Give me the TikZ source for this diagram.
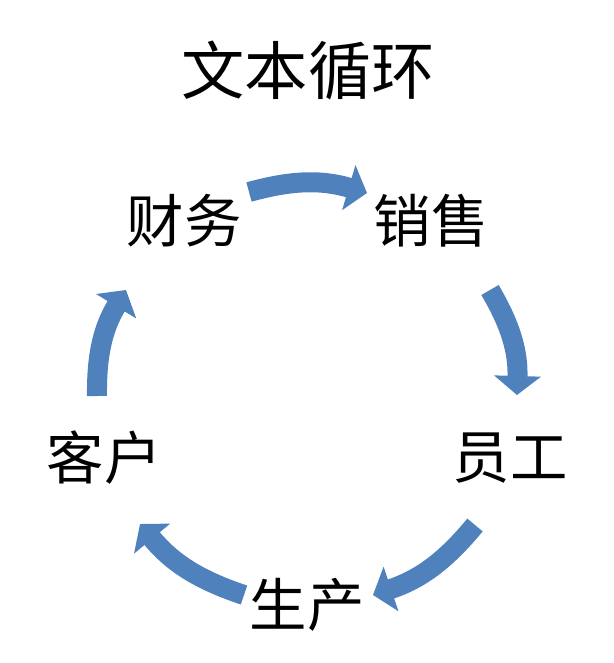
\documentclass[tikz,border=0pt]{standalone}
\usepackage{fontspec}
\newfontfamily\cjk{Noto Sans CJK SC}
\usetikzlibrary{arrows.meta}
\definecolor{cycblue}{RGB}{79,129,189}

\begin{document}
\begin{tikzpicture}[x=0.03cm, y=-0.03cm,
    lbl/.style={font=\cjk\fontsize{49}{49}\selectfont, inner sep=0pt},
    cyc/.style={draw=cycblue, line width=0.6cm, -{Triangle[width=1.38cm, length=0.57cm]}}]
  \useasboundingbox (0,0) rectangle (614,663);
  % Title:
  \node[font=\cjk\fontsize{54}{54}\selectfont, inner sep=0pt] (title) at (308,70) {文本循环};
  % Steps of the cycle:
  \node[lbl] (cw) at (184,221) {财务};
  \node[lbl] (xs) at (431,221) {销售};
  \node[lbl] (yg) at (510,458) {员工};
  \node[lbl] (sc) at (307,605) {生产};
  \node[lbl] (kh) at (104,458) {客户};
  % Arrows:
  \draw[cyc] ([shift={(65,-29)}]cw.center) to[bend left=16] ([shift={(-64,-28)}]xs.center);
  \draw[cyc] ([shift={(59,69)}]xs.center) to[bend left=16] ([shift={(7,-63)}]yg.center);
  \draw[cyc] ([shift={(-35,67)}]yg.center) to[bend left=16] ([shift={(66,-10)}]sc.center);
  \draw[cyc] ([shift={(-63,-10)}]sc.center) to[bend left=16] ([shift={(36,66)}]kh.center);
  \draw[cyc] ([shift={(-7,-62)}]kh.center) to[bend left=16] ([shift={(-58,69)}]cw.center);
\end{tikzpicture}
\end{document}
